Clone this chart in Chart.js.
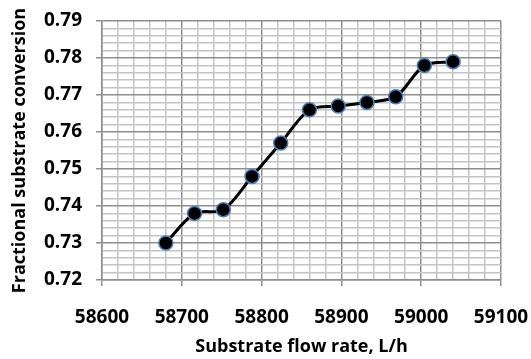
<!DOCTYPE html>
<html>
<head>
<meta charset="utf-8">
<script src="https://cdn.jsdelivr.net/npm/chart.js@4/dist/chart.umd.min.js"></script>
<style>
  html, body { margin: 0; padding: 0; background: #fff; }
  #wrap { width: 531px; height: 359px; }
</style>
</head>
<body>
<div id="wrap"><canvas id="c" width="531" height="359"></canvas></div>
<script>
// Substrate feed rate (L/h) and the resulting fractional conversion
const flowRates = [58680, 58716, 58752, 58788, 58824, 58860, 58896, 58932, 58968, 59004, 59040];
const conversion = [0.730, 0.738, 0.739, 0.748, 0.757, 0.766, 0.767, 0.768, 0.7695, 0.778, 0.779];

const xMin = 58600, xMax = 59100, xMajor = 100, xMinor = 20;
const yMin = 0.72, yMax = 0.79, yMajor = 0.01, yMinor = 0.002;

const MAJOR = '#8e8e8e';
const MINOR = '#c4c4c4';

function isMajor(v, step) {
  const r = v / step;
  return Math.abs(r - Math.round(r)) < 1e-6;
}

const points = flowRates.map((x, i) => ({ x: x, y: conversion[i] }));

Chart.defaults.font.family = '"Open Sans", Lato, sans-serif';
Chart.defaults.font.weight = 'bold';
Chart.defaults.color = '#000';

new Chart(document.getElementById('c'), {
  type: 'line',
  data: {
    datasets: [{
      data: points,
      borderColor: '#000',
      borderWidth: 3,
      tension: 0.3,
      pointRadius: 7,
      pointBackgroundColor: '#000',
      pointBorderColor: '#4a7ebb',
      pointBorderWidth: 1.5
    }]
  },
  options: {
    responsive: false,
    animation: false,
    layout: { padding: { left: 8, top: 21, right: 0, bottom: 0 } },
    plugins: { legend: { display: false }, tooltip: { enabled: false } },
    scales: {
      x: {
        type: 'linear',
        min: xMin, max: xMax,
        // keep the axis band compact: the tick padding would otherwise be counted twice
        afterFit: s => { s.height = 79; s.paddingRight = 30; },
        border: { color: MAJOR, width: 1.5 },
        grid: {
          lineWidth: 1.5,
          color: c => isMajor(c.tick.value, xMajor) ? MAJOR : MINOR,
          tickColor: c => isMajor(c.tick.value, xMajor) ? MAJOR : 'rgba(0,0,0,0)',
          tickLength: 6
        },
        ticks: {
          stepSize: xMinor,
          autoSkip: false,
          maxRotation: 0,
          padding: 20,
          font: { size: 19, weight: 'bold' },
          callback: v => isMajor(v, xMajor) ? String(v) : ''
        },
        title: {
          display: true,
          text: 'Substrate flow rate, L/h',
          font: { size: 18, weight: 'bold' },
          padding: { top: 0, bottom: 1 }
        }
      },
      y: {
        min: yMin, max: yMax,
        afterFit: s => { s.width = 94; s.paddingTop = 0; s.paddingBottom = 0; },
        border: { color: MAJOR, width: 1.5 },
        grid: {
          lineWidth: 1.5,
          color: c => isMajor(c.tick.value, yMajor) ? MAJOR : MINOR,
          tickColor: c => isMajor(c.tick.value, yMajor) ? MAJOR : 'rgba(0,0,0,0)',
          tickLength: 6
        },
        ticks: {
          stepSize: yMinor,
          autoSkip: false,
          padding: 14,
          font: { size: 19, weight: 'bold' },
          callback: v => isMajor(v, yMajor) ? v.toFixed(2) : ''
        },
        title: {
          display: true,
          text: 'Fractional substrate conversion',
          font: { size: 18, weight: 'bold' },
          padding: { top: 1, bottom: 0 }
        }
      }
    }
  }
});
</script>
</body>
</html>
